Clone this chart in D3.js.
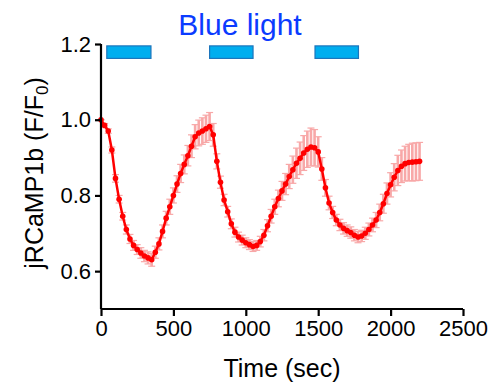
<!DOCTYPE html>
<html>
<head>
<meta charset="utf-8">
<script src="https://cdn.jsdelivr.net/npm/d3@7"></script>
<style>
  body { margin: 0; background: #fff; }
  svg { display: block; font-family: Arial, "Liberation Sans", sans-serif; }
</style>
</head>
<body>
<div id="chart"></div>
<script>
// time points (sec), sampled every 25 s
var times = d3.range(0, 2201, 25);

// mean F/F0
var meanValues = [
  1.000, 0.985, 0.970, 0.920, 0.845, 0.790, 0.745, 0.710, 0.685, 0.668,
  0.657, 0.648, 0.640, 0.635, 0.630, 0.650, 0.672, 0.705, 0.740, 0.770,
  0.800, 0.830, 0.858, 0.882, 0.905, 0.930, 0.955, 0.965, 0.970, 0.976,
  0.982, 0.960, 0.890, 0.835, 0.788, 0.757, 0.725, 0.703, 0.690, 0.682,
  0.675, 0.670, 0.665, 0.668, 0.678, 0.695, 0.720, 0.745, 0.770, 0.792,
  0.812, 0.830, 0.850, 0.868, 0.885, 0.898, 0.912, 0.922, 0.928, 0.926,
  0.915, 0.870, 0.820, 0.780, 0.755, 0.735, 0.722, 0.713, 0.707, 0.702,
  0.695, 0.690, 0.693, 0.700, 0.710, 0.722, 0.735, 0.755, 0.778, 0.805,
  0.828, 0.848, 0.866, 0.877, 0.884, 0.887, 0.888, 0.889, 0.890
];

// SEM (error bar half-length)
var semValues = [
  0.000, 0.005, 0.006, 0.008, 0.010, 0.010, 0.010, 0.012, 0.012, 0.013,
  0.013, 0.014, 0.015, 0.016, 0.017, 0.016, 0.016, 0.017, 0.018, 0.020,
  0.020, 0.022, 0.024, 0.025, 0.027, 0.030, 0.032, 0.034, 0.035, 0.036,
  0.037, 0.030, 0.020, 0.016, 0.015, 0.014, 0.013, 0.013, 0.013, 0.013,
  0.013, 0.013, 0.013, 0.013, 0.014, 0.015, 0.016, 0.018, 0.020, 0.022,
  0.025, 0.028, 0.032, 0.036, 0.040, 0.043, 0.046, 0.048, 0.050, 0.048,
  0.040, 0.030, 0.022, 0.018, 0.016, 0.015, 0.015, 0.015, 0.015, 0.015,
  0.015, 0.015, 0.015, 0.016, 0.017, 0.018, 0.020, 0.022, 0.025, 0.028,
  0.032, 0.036, 0.040, 0.043, 0.046, 0.048, 0.050, 0.050, 0.050
];

// blue light stimulation periods (sec)
var lightStart = [40, 750, 1478];
var lightEnd = [345, 1050, 1778];

var xTicks = [0, 500, 1000, 1500, 2000, 2500];
var yTicks = [0.6, 0.8, 1.0, 1.2];

var width = 501, height = 383;
var margin = {top: 44, right: 38, bottom: 74, left: 101};

var svg = d3.select('#chart').append('svg')
    .attr('width', width)
    .attr('height', height);

var x = d3.scaleLinear().domain([0, 2500]).range([margin.left, width - margin.right]);
var y = d3.scaleLinear().domain([0.5, 1.2]).range([height - margin.bottom, margin.top]);

var data = times.map(function (t, i) {
  return {t: t, v: meanValues[i], e: semValues[i]};
});

// light bars
var bars = lightStart.map(function (s, i) { return {s: s, e: lightEnd[i]}; });
svg.append('g').selectAll('rect').data(bars).enter().append('rect')
    .attr('x', function (d) { return x(d.s); })
    .attr('width', function (d) { return x(d.e) - x(d.s); })
    .attr('y', y(1.195))
    .attr('height', y(1.162) - y(1.195))
    .attr('fill', '#00aeef')
    .attr('stroke', '#1c75bc')
    .attr('stroke-width', 1.2);

svg.append('text')
    .attr('x', 240)
    .attr('y', 35)
    .attr('text-anchor', 'middle')
    .attr('font-size', 30)
    .attr('fill', '#0b3bff')
    .text('Blue light');

// error bars
var eb = svg.append('g').attr('stroke', '#f8a8a8');
eb.selectAll('line.v').data(data).enter().append('line')
    .attr('stroke-width', 2.6)
    .attr('x1', function (d) { return x(d.t); })
    .attr('x2', function (d) { return x(d.t); })
    .attr('y1', function (d) { return y(d.v - d.e); })
    .attr('y2', function (d) { return y(d.v + d.e); });
eb.selectAll('line.top').data(data).enter().append('line')
    .attr('stroke-width', 1.2)
    .attr('x1', function (d) { return x(d.t) - 3.5; })
    .attr('x2', function (d) { return x(d.t) + 3.5; })
    .attr('y1', function (d) { return y(d.v + d.e); })
    .attr('y2', function (d) { return y(d.v + d.e); });
eb.selectAll('line.bot').data(data).enter().append('line')
    .attr('stroke-width', 1.2)
    .attr('x1', function (d) { return x(d.t) - 3.5; })
    .attr('x2', function (d) { return x(d.t) + 3.5; })
    .attr('y1', function (d) { return y(d.v - d.e); })
    .attr('y2', function (d) { return y(d.v - d.e); });

// mean line + dots
var line = d3.line()
    .x(function (d) { return x(d.t); })
    .y(function (d) { return y(d.v); });
svg.append('path').datum(data)
    .attr('d', line)
    .attr('fill', 'none')
    .attr('stroke', '#ff0000')
    .attr('stroke-width', 2.5);
svg.append('g').selectAll('circle').data(data).enter().append('circle')
    .attr('cx', function (d) { return x(d.t); })
    .attr('cy', function (d) { return y(d.v); })
    .attr('r', 2.8)
    .attr('fill', '#ff0000');

// axes
var xAxis = svg.append('g')
    .attr('transform', 'translate(0,' + (height - margin.bottom) + ')')
    .call(d3.axisBottom(x).tickValues(xTicks).tickSize(7).tickPadding(4)
      .tickFormat(d3.format('d')));
var yAxis = svg.append('g')
    .attr('transform', 'translate(' + margin.left + ',0)')
    .call(d3.axisLeft(y).tickValues(yTicks).tickSize(6).tickPadding(4)
      .tickFormat(d3.format('.1f')));
[xAxis, yAxis].forEach(function (a) {
  a.select('.domain').attr('stroke', '#000').attr('stroke-width', 2.2);
  a.selectAll('.tick line').attr('stroke', '#000').attr('stroke-width', 2.2);
  a.selectAll('.tick text').attr('fill', '#000').attr('font-size', 22)
      .attr('font-family', 'Arial, "Liberation Sans", sans-serif');
});
xAxis.select('.domain').attr('d', 'M' + x(0) + ',0H' + x(2500));
yAxis.select('.domain').attr('d', 'M0,' + y(0.5) + 'V' + y(1.2));

// axis titles
svg.append('text')
    .attr('x', (x(0) + x(2500)) / 2)
    .attr('y', 377)
    .attr('text-anchor', 'middle')
    .attr('font-size', 25)
    .text('Time (sec)');

var yl = svg.append('text')
    .attr('transform', 'translate(43,' + 173 + ') rotate(-90)')
    .attr('text-anchor', 'middle')
    .attr('font-size', 25);
yl.append('tspan').text('jRCaMP1b (F/F');
yl.append('tspan').attr('font-size', 17).attr('dy', 5).text('0');
yl.append('tspan').attr('dy', -5).text(')');
</script>
</body>
</html>
